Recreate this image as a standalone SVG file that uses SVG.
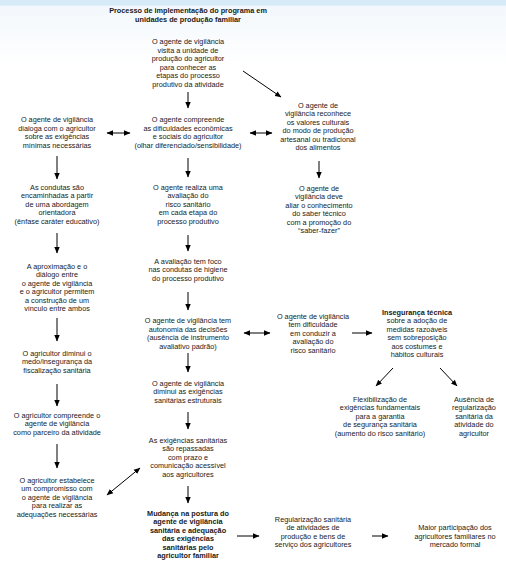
<svg xmlns="http://www.w3.org/2000/svg" width="506" height="566" viewBox="0 0 506 566">
<style>
text{font-family:"Liberation Sans",Arial,sans-serif;font-size:7.3px;fill:#1a1a1a;text-anchor:middle}
.title{font-weight:bold}
.b{font-weight:bold}
.c line{stroke:#000;stroke-width:1;marker-end:url(#ah)}
.c line.d{marker-start:url(#ah)}
</style>
<defs>
<linearGradient id="bg" x1="0" y1="0" x2="0" y2="1">
<stop offset="0" stop-color="#d6eaf8"/>
<stop offset="0.008" stop-color="#d6eaf8"/>
<stop offset="0.012" stop-color="#f3f8fc"/>
<stop offset="0.12" stop-color="#ffffff"/>
<stop offset="1" stop-color="#ffffff"/>
</linearGradient>
<marker id="ah" markerUnits="userSpaceOnUse" markerWidth="7" markerHeight="6" refX="6" refY="3" orient="auto-start-reverse">
<path d="M0,0.3 L6.5,3 L0,5.7 z" fill="#000"/>
</marker>
</defs>
<rect width="506" height="566" fill="url(#bg)"/>
<g id="title"><text class="title"><tspan x="188" y="13">Processo de implementação do programa em</tspan><tspan x="188" y="21.5">unidades de produção familiar</tspan></text></g>
<g id="n1"><text><tspan x="188" y="44">O agente de vigilância</tspan><tspan x="188" y="52.5">visita a unidade de</tspan><tspan x="188" y="61">produção do agricultor</tspan><tspan x="188" y="69.5">para conhecer as</tspan><tspan x="188" y="78">etapas do processo</tspan><tspan x="188" y="86.5">produtivo da atividade</tspan></text></g>
<g id="n2"><text><tspan x="188" y="122">O agente compreende</tspan><tspan x="188" y="130.5">as dificuldades econômicas</tspan><tspan x="188" y="139">e sociais do agricultor</tspan><tspan x="188" y="147.5">(olhar diferenciado/sensibilidade)</tspan></text></g>
<g id="l1"><text><tspan x="57" y="122">O agente de vigilância</tspan><tspan x="57" y="130.5">dialoga com o agricultor</tspan><tspan x="57" y="139">sobre as exigências</tspan><tspan x="57" y="147.5">mínimas necessárias</tspan></text></g>
<g id="r1"><text><tspan x="318" y="107.5">O agente de</tspan><tspan x="318" y="116">vigilância reconhece</tspan><tspan x="318" y="124.5">os valores culturais</tspan><tspan x="318" y="133">do modo de produção</tspan><tspan x="318" y="141.5">artesanal ou tradicional</tspan><tspan x="318" y="150">dos alimentos</tspan></text></g>
<g id="r2"><text><tspan x="319" y="190.5">O agente de</tspan><tspan x="319" y="199">vigilância deve</tspan><tspan x="319" y="207.5">aliar o conhecimento</tspan><tspan x="319" y="216">do saber técnico</tspan><tspan x="319" y="224.5">com a promoção do</tspan><tspan x="319" y="233">“saber-fazer”</tspan></text></g>
<g id="l2"><text><tspan x="57" y="189.5">As condutas são</tspan><tspan x="57" y="198">encaminhadas a partir</tspan><tspan x="57" y="206.5">de uma abordagem</tspan><tspan x="57" y="215">orientadora</tspan><tspan x="57" y="223.5">(ênfase caráter educativo)</tspan></text></g>
<g id="c3"><text><tspan x="188" y="189.5">O agente realiza uma</tspan><tspan x="188" y="198">avaliação do</tspan><tspan x="188" y="206.5">risco sanitário</tspan><tspan x="188" y="215">em cada etapa do</tspan><tspan x="188" y="223.5">processo produtivo</tspan></text></g>
<g id="l3"><text><tspan x="57" y="268.5">A aproximação e o</tspan><tspan x="57" y="277">diálogo entre</tspan><tspan x="57" y="285.5">o agente de vigilância</tspan><tspan x="57" y="294">e o agricultor permitem</tspan><tspan x="57" y="302.5">a construção de um</tspan><tspan x="57" y="311">vínculo entre ambos</tspan></text></g>
<g id="c4"><text><tspan x="188" y="263.5">A avaliação tem foco</tspan><tspan x="188" y="272">nas condutas de higiene</tspan><tspan x="188" y="280.5">do processo produtivo</tspan></text></g>
<g id="c5"><text><tspan x="188" y="323">O agente de vigilância tem</tspan><tspan x="188" y="331.5">autonomia das decisões</tspan><tspan x="188" y="340">(ausência de instrumento</tspan><tspan x="188" y="348.5">avaliativo padrão)</tspan></text></g>
<g id="m1"><text><tspan x="313" y="318.5">O agente de vigilância</tspan><tspan x="313" y="327">tem dificuldade</tspan><tspan x="313" y="335.5">em conduzir a</tspan><tspan x="313" y="344">avaliação do</tspan><tspan x="313" y="352.5">risco sanitário</tspan></text></g>
<g id="inseg"><text><tspan x="417" y="314.5" class="b">Insegurança técnica</tspan><tspan x="417" y="323">sobre a adoção de</tspan><tspan x="417" y="331.5">medidas razoáveis</tspan><tspan x="417" y="340">sem sobreposição</tspan><tspan x="417" y="348.5">aos costumes e</tspan><tspan x="417" y="357">hábitos culturais</tspan></text></g>
<g id="flex"><text><tspan x="380" y="401.5">Flexibilização de</tspan><tspan x="380" y="410">exigências fundamentais</tspan><tspan x="380" y="418.5">para a garantia</tspan><tspan x="380" y="427">de segurança sanitária</tspan><tspan x="380" y="435.5">(aumento do risco sanitário)</tspan></text></g>
<g id="aus"><text><tspan x="474" y="401.5">Ausência de</tspan><tspan x="474" y="410">regularização</tspan><tspan x="474" y="418.5">sanitária da</tspan><tspan x="474" y="427">atividade do</tspan><tspan x="474" y="435.5">agricultor</tspan></text></g>
<g id="l4"><text><tspan x="57" y="355.5">O agricultor diminui o</tspan><tspan x="57" y="364">medo/insegurança da</tspan><tspan x="57" y="372.5">fiscalização sanitária</tspan></text></g>
<g id="l5"><text><tspan x="57" y="417.5">O agricultor compreende o</tspan><tspan x="57" y="426">agente de vigilância</tspan><tspan x="57" y="434.5">como parceiro da atividade</tspan></text></g>
<g id="l6"><text><tspan x="57" y="482.5">O agricultor estabelece</tspan><tspan x="57" y="491">um compromisso com</tspan><tspan x="57" y="499.5">o agente de vigilância</tspan><tspan x="57" y="508">para realizar as</tspan><tspan x="57" y="516.5">adequações necessárias</tspan></text></g>
<g id="c6"><text><tspan x="188" y="385.5">O agente de vigilância</tspan><tspan x="188" y="394">diminui as exigências</tspan><tspan x="188" y="402.5">sanitárias estruturais</tspan></text></g>
<g id="c7"><text><tspan x="188" y="442.5">As exigências sanitárias</tspan><tspan x="188" y="451">são repassadas</tspan><tspan x="188" y="459.5">com prazo e</tspan><tspan x="188" y="468">comunicação acessível</tspan><tspan x="188" y="476.5">aos agricultores</tspan></text></g>
<g id="c8"><text class="b"><tspan x="188" y="515.5">Mudança na postura do</tspan><tspan x="188" y="524">agente de vigilância</tspan><tspan x="188" y="532.5">sanitária e adequação</tspan><tspan x="188" y="541">das exigências</tspan><tspan x="188" y="549.5">sanitárias pelo</tspan><tspan x="188" y="558">agricultor familiar</tspan></text></g>
<g id="b1"><text><tspan x="313" y="521.5">Regularização sanitária</tspan><tspan x="313" y="530">de atividades de</tspan><tspan x="313" y="538.5">produção e bens de</tspan><tspan x="313" y="547">serviço dos agricultores</tspan></text></g>
<g id="b2"><text><tspan x="455" y="530">Maior participação dos</tspan><tspan x="455" y="538.5">agricultores familiares no</tspan><tspan x="455" y="547">mercado formal</tspan></text></g>
<g id="connectors" class="c">
<line x1="188" y1="92" x2="188" y2="108"/>
<line class="d" x1="107" y1="133" x2="130" y2="133"/>
<line class="d" x1="250" y1="133" x2="272" y2="133"/>
<line x1="243" y1="71" x2="281" y2="97"/>
<line x1="57" y1="156" x2="57" y2="179"/>
<line x1="188" y1="158" x2="188" y2="177"/>
<line x1="319" y1="161" x2="319" y2="178"/>
<line x1="57" y1="233" x2="57" y2="253"/>
<line x1="188" y1="235" x2="188" y2="251"/>
<line x1="57" y1="318" x2="57" y2="341"/>
<line x1="188" y1="292" x2="188" y2="310"/>
<line class="d" x1="244" y1="333" x2="270" y2="333"/>
<line x1="352" y1="333" x2="372" y2="333"/>
<line x1="393" y1="368" x2="376" y2="386"/>
<line x1="440" y1="368" x2="457" y2="386"/>
<line x1="57" y1="384" x2="57" y2="406"/>
<line x1="188" y1="353" x2="188" y2="372"/>
<line x1="57" y1="444" x2="57" y2="468"/>
<line x1="188" y1="412" x2="188" y2="429"/>
<line class="d" x1="107" y1="495" x2="140" y2="468"/>
<line x1="188" y1="486" x2="188" y2="503"/>
<line x1="237" y1="536" x2="259" y2="536"/>
<line x1="372" y1="536" x2="388" y2="536"/>
</g>
</svg>
